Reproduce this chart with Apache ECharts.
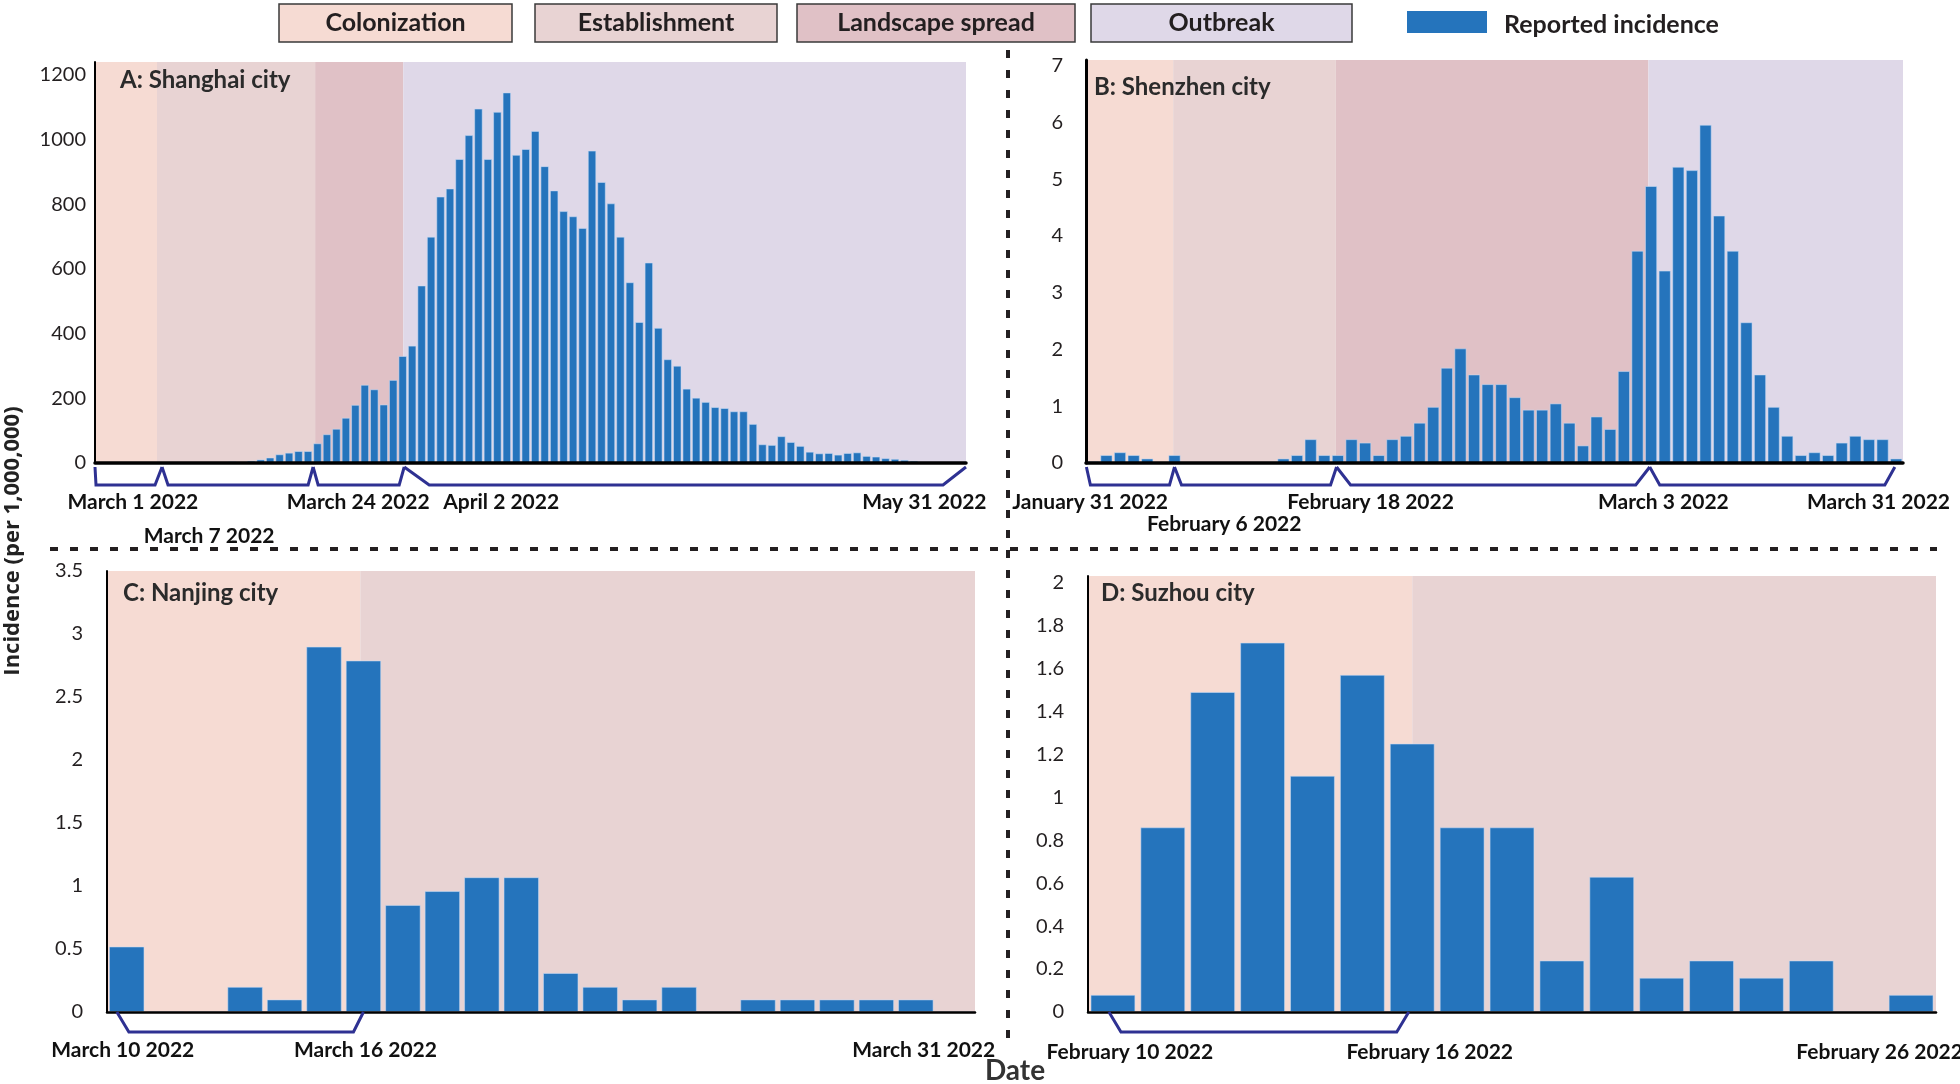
<!DOCTYPE html>
<html><head><meta charset="utf-8">
<script src="https://cdn.jsdelivr.net/npm/echarts/dist/echarts.min.js"></script>
<style>html,body{margin:0;padding:0;background:#fff}#c{width:1960px;height:1084px}</style>
</head><body><div id="c"></div><script>
// ---------------- DATA ----------------
const MONTHS = ['January','February','March','April','May','June'];
function dayLabels(m, d, n) { // category names (consecutive days, 2022)
  const out = []; const dt = new Date(Date.UTC(2022, m - 1, d));
  for (let i = 0; i < n; i++) { out.push(MONTHS[dt.getUTCMonth()] + ' ' + dt.getUTCDate() + ' 2022'); dt.setUTCDate(dt.getUTCDate() + 1); }
  return out;
}
const categoriesA = dayLabels(3, 1, 92);   // March 1 - May 31
const categoriesB = dayLabels(1, 31, 60);  // January 31 - March 31
const categoriesC = dayLabels(3, 10, 22);  // March 10 - March 31
const categoriesD = dayLabels(2, 10, 17);  // February 10 - February 26

const incidenceA = [0,0,0,0,0,0,0,0,0,0,0,0,
  3,2,5,3,7,11,17,27,32,37,37,61,89,106,140,180,242,228,181,257,331,363,549,700,824,849,940,1014,1096,940,1086,1146,953,971,1027,918,843,779,763,727,966,869,803,700,559,436,620,418,321,301,230,202,189,173,170,160,160,121,58,56,83,65,53,35,30,31,26,31,33,22,20,15,13,10,7,3,1,0,0,0];
const incidenceB = [0.03,0.14,0.19,0.14,0.08,0,0.14,0,0,0,
  0,0,0.02,0.02,0.08,0.14,0.42,0.14,0.14,0.42,
  0.36,0.14,0.42,0.48,0.71,0.99,1.68,2.02,1.56,1.39,
  1.39,1.16,0.94,0.94,1.05,0.71,0.31,0.82,0.60,1.62,
  3.74,4.88,3.39,5.22,5.16,5.96,4.36,3.74,2.48,1.56,
  0.99,0.48,0.14,0.19,0.14,0.36,0.48,0.42,0.42,0.08];
const incidenceC = [0.52,0,0,0.2,0.1,2.9,2.79,0.85,0.96,1.07,1.07,0.31,0.2,0.1,0.2,0,0.1,0.1,0.1,0.1,0.1,0];
const incidenceD = [0.08,0.86,1.49,1.72,1.10,1.57,1.25,0.86,0.86,0.24,0.63,0.16,0.24,0.16,0.24,0,0.08];

// phase spans on the day scale: [start, end, phase]  (0 Colonization, 1 Establishment, 2 Landscape spread, 3 Outbreak)
const phasesA = [[0,6.55,0],[6.55,23.25,1],[23.25,32.56,2],[32.56,92,3]];
const phasesB = [[0,6.4,0],[6.4,18.35,1],[18.35,41.3,2],[41.3,60,3]];
const phasesC = [[0,6.42,0],[6.42,22,1]];
const phasesD = [[0,6.5,0],[6.5,17,1]];

// brackets under the axis: [start, end] on the day scale
const bracketsA = [[0,7.08],[7.08,23.04],[23.04,32.66],[32.66,92]];
const bracketsB = [[0.03,6.5],[6.5,18.4],[18.4,41.4],[41.4,59.4]];
const bracketsC = [[0.25,6.5]];
const bracketsD = [[0.42,6.43]];

// date tick labels
const tickTextA = ['March 1 2022','March 7 2022','March 24 2022','April 2 2022','May 31 2022'];
const tickPosA  = [4.0,12.05,27.8,42.9,87.6];
const tickRowA  = [0,1,0,0,0];
const tickTextB = ['January 31 2022','February 6 2022','February 18 2022','March 3 2022','March 31 2022'];
const tickPosB  = [0.3,10.15,20.9,42.4,58.2];
const tickRowB  = [0,1,0,0,0];
const tickTextC = ['March 10 2022','March 16 2022','March 31 2022'];
const tickPosC  = [0.4,6.55,20.7];
const tickRowC  = [0,0,0];
const tickTextD = ['February 10 2022','February 16 2022','February 26 2022'];
const tickPosD  = [0.84,6.85,15.87];
const tickRowD  = [0,0,0];

const titles = ['A: Shanghai city','B: Shenzhen city','C: Nanjing city','D: Suzhou city'];
const phaseNames = ['Colonization','Establishment','Landscape spread','Outbreak'];
const seriesName = 'Reported incidence';

// ---------------- STYLE / LAYOUT ----------------
const PHASE_COLORS = ['#f6dbd3','#e8d3d3','#e0c1c6','#dfd8e8'];
const BAR_COLOR = '#2574bc';
const NAVY = '#2e3192';
const INK = '#231f20';
const FONT = 'Lato, "Open Sans", sans-serif';

const LAYOUT = [
  {grid:{left:95,top:62,width:871,height:401}, max:1240, interval:200, margin:9, yW:2, xW:3.5, bTop:4, bBot:22, rowY:[39,73],
   slant:[[1,7],[6,5],[5,5],[25,23]], title:[120,83]},
  {grid:{left:1086,top:60,width:817,height:403}, max:7.1, interval:1, margin:23, yW:3, xW:3.5, bTop:4, bBot:22, rowY:[39,61],
   slant:[[4,5],[7,6],[14,14],[10,10]], title:[1094,90]},
  {grid:{left:107,top:571,width:868,height:441}, max:3.5, interval:0.5, margin:24, yW:2, xW:2.5, bTop:0, bBot:20, rowY:[38,38],
   slant:[[12,10]], title:[123,596]},
  {grid:{left:1088,top:576,width:848,height:436}, max:2.03, interval:0.2, margin:24, yW:2, xW:2.5, bTop:0, bBot:20, rowY:[40,40],
   slant:[[12,12]], title:[1101,596]}
];

const PANELS = [
  {cats:categoriesA, vals:incidenceA, phases:phasesA, brackets:bracketsA, tText:tickTextA, tPos:tickPosA, tRow:tickRowA},
  {cats:categoriesB, vals:incidenceB, phases:phasesB, brackets:bracketsB, tText:tickTextB, tPos:tickPosB, tRow:tickRowB},
  {cats:categoriesC, vals:incidenceC, phases:phasesC, brackets:bracketsC, tText:tickTextC, tPos:tickPosC, tRow:tickRowC},
  {cats:categoriesD, vals:incidenceD, phases:phasesD, brackets:bracketsD, tText:tickTextD, tPos:tickPosD, tRow:tickRowD}
];

// ---------------- BUILD ----------------
const grid = [], xAxis = [], yAxis = [], series = [], graphic = [];
PANELS.forEach((p, k) => {
  const L = LAYOUT[k];
  grid.push(L.grid);
  xAxis.push({type:'category', gridIndex:k, data:p.cats, axisLabel:{show:false}, axisTick:{show:false},
    axisLine:{lineStyle:{color:'#000', width:L.xW}}, z:5});
  xAxis.push({type:'value', gridIndex:k, min:0, max:p.cats.length, show:false});
  yAxis.push({type:'value', gridIndex:k, min:0, max:L.max, interval:L.interval, splitLine:{show:false},
    axisTick:{show:false}, axisLine:{show:true, lineStyle:{color:'#000', width:L.yW}},
    axisLabel:{showMaxLabel: L.max % L.interval === 0, margin:L.margin, color:INK, fontSize:20, fontFamily:FONT,
      formatter:(v) => String(Math.round(v * 100) / 100)}, z:5});
  const cx = 2*k, vx = 2*k+1;
  // phase backgrounds
  series.push({type:'custom', xAxisIndex:vx, yAxisIndex:k, data:p.phases, silent:true, z:1, animation:false,
    renderItem:(params, api) => {
      const a = api.coord([api.value(0), 0])[0], b = api.coord([api.value(1), 0])[0];
      const cs = params.coordSys;
      return {type:'rect', shape:{x:a, y:cs.y, width:b-a, height:cs.height}, style:{fill:PHASE_COLORS[api.value(2)]}};
    }});
  // bars
  series.push({type:'bar', name:seriesName, xAxisIndex:cx, yAxisIndex:k, data:p.vals, barCategoryGap:'10%', z:2, animation:false,
    itemStyle:{color:BAR_COLOR, borderColor:'rgba(200,220,245,0.55)', borderWidth:1}});
  // brackets
  series.push({type:'custom', xAxisIndex:vx, yAxisIndex:k, data:p.brackets, silent:true, z:6, animation:false, clip:false,
    renderItem:(params, api) => {
      const zero = api.coord([0, 0])[1];
      const a = api.coord([api.value(0), 0])[0], b = api.coord([api.value(1), 0])[0];
      const s = L.slant[params.dataIndex];
      const t = zero + L.bTop, d = zero + L.bBot;
      return {type:'polyline', shape:{points:[[a,t],[a+s[0],d],[b-s[1],d],[b,t]]},
        style:{stroke:NAVY, lineWidth:3, fill:null, lineJoin:'miter'}};
    }});
  // date labels
  series.push({type:'custom', xAxisIndex:vx, yAxisIndex:k, data:p.tPos.map((v,i)=>[v, p.tRow[i]]), silent:true, z:6, animation:false, clip:false,
    renderItem:(params, api) => {
      const zero = api.coord([0, 0])[1];
      const x = api.coord([api.value(0), 0])[0];
      const y = zero + L.rowY[api.value(1)];
      return {type:'text', x:x, y:y, style:{text:p.tText[params.dataIndex], fill:'#111', fontSize:21, fontWeight:'bold', fontFamily:FONT,
        align:'center', verticalAlign:'middle'}};
    }});
  graphic.push({type:'text', left:L.title[0], top:L.title[1]-15, z:10,
    style:{text:titles[k], fill:'#2b2b2b', fontSize:24, fontWeight:'bold', fontFamily:FONT}});
});

// legend
const legendBoxes = [[279,233],[535,242],[797,278],[1091,261]];
legendBoxes.forEach((b, i) => {
  graphic.push({type:'rect', shape:{x:b[0], y:4, width:b[1], height:38}, style:{fill:PHASE_COLORS[i], stroke:'#3a3a3a', lineWidth:1.5}, z:10});
  graphic.push({type:'text', x:b[0]+b[1]/2, y:23, z:11, style:{text:phaseNames[i], fill:INK, fontSize:25, fontFamily:FONT, fontWeight:'bold', align:'center', verticalAlign:'middle'}});
});
graphic.push({type:'rect', shape:{x:1407, y:11, width:80, height:22}, style:{fill:BAR_COLOR}, z:10});
graphic.push({type:'text', x:1504, y:25, z:11, style:{text:seriesName, fill:INK, fontSize:25, fontFamily:FONT, fontWeight:'bold', align:'left', verticalAlign:'middle'}});

// dividers
graphic.push({type:'line', shape:{x1:50, y1:549, x2:1937, y2:549}, style:{stroke:INK, lineWidth:4, lineDash:[8,12]}, z:10});
graphic.push({type:'line', shape:{x1:1008, y1:50, x2:1008, y2:1040}, style:{stroke:INK, lineWidth:4, lineDash:[8,12]}, z:10});

// axis titles
graphic.push({type:'text', x:13, y:541, rotation:Math.PI/2, z:10,
  style:{text:'Incidence (per 1,000,000)', fill:'#222', fontSize:22, fontWeight:'bold', fontFamily:'"Open Sans", sans-serif', align:'center', verticalAlign:'middle'}});
graphic.push({type:'text', x:1015, y:1071, z:10,
  style:{text:'Date', fill:'#333', fontSize:28, fontWeight:'bold', fontFamily:FONT, align:'center', verticalAlign:'middle'}});

const chart = echarts.init(document.getElementById('c'), null, {renderer:'canvas'});
chart.setOption({animation:false, backgroundColor:'#fff', grid, xAxis, yAxis, series, graphic});
</script></body></html>
